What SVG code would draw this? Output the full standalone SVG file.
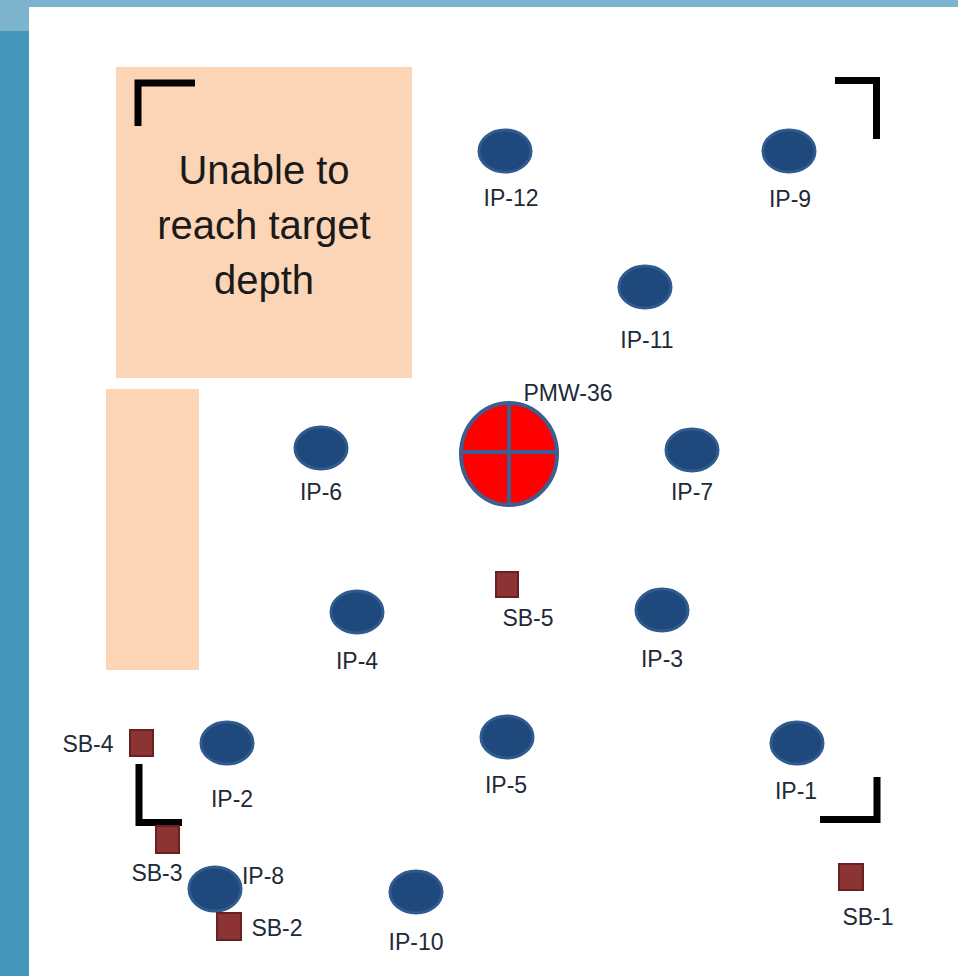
<svg xmlns="http://www.w3.org/2000/svg" width="958" height="976" viewBox="0 0 958 976">
<style>
.ip{fill:#1f497d;stroke:#2f5b8e;stroke-width:3}
.sb{fill:#8c3434;stroke:#6a2020;stroke-width:2}
.lbl{font-family:"Liberation Sans",Arial,sans-serif;font-size:23px;fill:#1e2a38;text-anchor:middle}
.brk{fill:none;stroke:#000;stroke-width:7}
.zone{fill:#fbd5b5}
</style>
<rect x="0" y="0" width="958" height="976" fill="#ffffff"/>
<rect x="0" y="0" width="958" height="7" fill="#7db4cd"/>
<rect x="0" y="0" width="29" height="31" fill="#7db4cd"/>
<rect x="0" y="31" width="29" height="945" fill="#4596ba"/>
<g id="zone-unable">
<rect class="zone" x="116" y="67" width="296" height="311"/>
<text font-family="Liberation Sans,Arial,sans-serif" font-size="40" fill="#1a1a1a" text-anchor="middle"><tspan x="264" y="184">Unable to</tspan><tspan x="264" y="239">reach target</tspan><tspan x="264" y="294">depth</tspan></text>
</g>
<g id="zone-left"><rect class="zone" x="106" y="389" width="93" height="281"/></g>
<g id="brackets">
<path class="brk" d="M138,126 V83 H195"/>
<path class="brk" d="M835,80.5 H876.5 V139"/>
<path class="brk" d="M877,777 V819.5 H820"/>
<path class="brk" d="M139,764 V822.5 H182"/>
</g>
<g id="connectors"></g>
<g id="IP-12"><ellipse class="ip" cx="505" cy="151" rx="26" ry="21"/><text class="lbl" x="511" y="206">IP-12</text></g>
<g id="IP-9"><ellipse class="ip" cx="789" cy="151" rx="26" ry="21"/><text class="lbl" x="790" y="207">IP-9</text></g>
<g id="IP-11"><ellipse class="ip" cx="645" cy="287" rx="26" ry="21"/><text class="lbl" x="647" y="348">IP-11</text></g>
<g id="IP-6"><ellipse class="ip" cx="321" cy="448" rx="26" ry="21"/><text class="lbl" x="321" y="500">IP-6</text></g>
<g id="IP-7"><ellipse class="ip" cx="692" cy="450" rx="26" ry="21"/><text class="lbl" x="692" y="500">IP-7</text></g>
<g id="IP-4"><ellipse class="ip" cx="357" cy="612" rx="26" ry="21"/><text class="lbl" x="357" y="669">IP-4</text></g>
<g id="IP-3"><ellipse class="ip" cx="662" cy="610" rx="26" ry="21"/><text class="lbl" x="662" y="667">IP-3</text></g>
<g id="IP-2"><ellipse class="ip" cx="227" cy="743" rx="26" ry="21"/><text class="lbl" x="232" y="807">IP-2</text></g>
<g id="IP-5"><ellipse class="ip" cx="507" cy="737" rx="26" ry="21"/><text class="lbl" x="506" y="793">IP-5</text></g>
<g id="IP-1"><ellipse class="ip" cx="797" cy="743" rx="26" ry="21"/><text class="lbl" x="796" y="799">IP-1</text></g>
<g id="IP-8"><ellipse class="ip" cx="215" cy="889" rx="26" ry="22"/><text class="lbl" x="263" y="884">IP-8</text></g>
<g id="IP-10"><ellipse class="ip" cx="416" cy="892" rx="26" ry="21"/><text class="lbl" x="416" y="950">IP-10</text></g>
<g id="PMW-36">
<ellipse cx="509" cy="454" rx="48" ry="51" fill="#ff0000" stroke="#3c5f8f" stroke-width="4"/>
<line x1="509" y1="403" x2="509" y2="505" stroke="#3c5f8f" stroke-width="4"/>
<line x1="461" y1="452" x2="557" y2="452" stroke="#3c5f8f" stroke-width="4"/>
<text class="lbl" x="568" y="401">PMW-36</text>
</g>
<g id="SB-5"><rect class="sb" x="496" y="572" width="22" height="25"/><text class="lbl" x="528" y="626">SB-5</text></g>
<g id="SB-4"><rect class="sb" x="130" y="730" width="23" height="26"/><text class="lbl" x="88" y="752">SB-4</text></g>
<g id="SB-3"><rect class="sb" x="156" y="826" width="23" height="27"/><text class="lbl" x="157" y="881">SB-3</text></g>
<g id="SB-2"><rect class="sb" x="217" y="913" width="24" height="27"/><text class="lbl" x="277" y="936">SB-2</text></g>
<g id="SB-1"><rect class="sb" x="839" y="864" width="24" height="26"/><text class="lbl" x="868" y="925">SB-1</text></g>
</svg>
